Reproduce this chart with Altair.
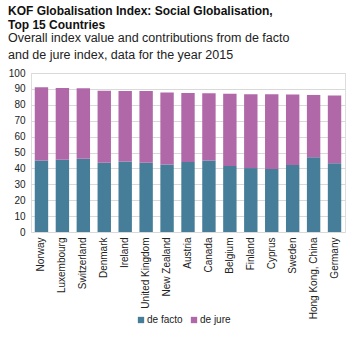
import altair as alt
import pandas as pd

countries = ["Norway", "Luxembourg", "Switzerland", "Denmark", "Ireland",
             "United Kingdom", "New Zealand", "Austria", "Canada", "Belgium",
             "Finland", "Cyprus", "Sweden", "Hong Kong, China", "Germany"]
totals = [91.0, 90.6, 90.4, 88.9, 88.7, 88.7, 87.7, 87.4, 87.2, 87.0,
          86.6, 86.6, 86.4, 86.2, 85.8]
de_facto = [44.9, 45.5, 46.1, 43.6, 44.3, 43.6, 42.4, 44.0, 44.9, 41.5,
            40.2, 39.7, 42.2, 47.0, 43.2]
de_jure = [round(t - f, 1) for t, f in zip(totals, de_facto)]

rows = []
for i, c in enumerate(countries):
    rows.append({"country": c, "series": "de facto", "value": de_facto[i], "order": 0})
    rows.append({"country": c, "series": "de jure", "value": de_jure[i], "order": 1})
df = pd.DataFrame(rows)

chart = alt.Chart(df).mark_bar().encode(
    x=alt.X("country:N", sort=countries, title=None,
            scale=alt.Scale(paddingInner=0.36, paddingOuter=0.18),
            axis=alt.Axis(labelAngle=-90, labelFontSize=10, labelColor="#222",
                          labelFont="Liberation Sans", ticks=False, domain=False,
                          labelPadding=5)),
    y=alt.Y("value:Q", stack="zero", title=None,
            scale=alt.Scale(domain=[0, 100], nice=False),
            axis=alt.Axis(values=list(range(0, 101, 10)), labelFontSize=10,
                          labelColor="#222", labelFont="Liberation Sans",
                          ticks=False, domain=False, gridColor="#d9d9d9",
                          labelPadding=6)),
    color=alt.Color("series:N",
                    scale=alt.Scale(domain=["de facto", "de jure"],
                                    range=["#467d98", "#b068a8"]),
                    legend=alt.Legend(title=None, orient="none", direction="horizontal",
                                      legendX=105, legendY=242,
                                      symbolType="square", symbolSize=40,
                                      symbolStrokeWidth=0,
                                      labelFontSize=10, labelFont="Liberation Sans",
                                      labelColor="#222", columnPadding=6,
                                      labelOffset=1)),
    order=alt.Order("order:Q"),
).properties(
    width=314, height=159,
    autosize=alt.AutoSizeParams(type="none"),
    padding={"left": 31, "top": 73, "right": 15, "bottom": 105},
    title=alt.TitleParams(
        text=["KOF Globalisation Index: Social Globalisation,", "Top 15 Countries"],
        subtitle=["Overall index value and contributions from de facto",
                  "and de jure index, data for the year 2015"],
        anchor="start", frame="group", dx=-23, offset=6,
        font="Liberation Sans", fontSize=12, fontWeight="bold", color="#111",
        lineHeight=14,
        subtitleFont="Liberation Sans", subtitleFontSize=12.5, subtitleColor="#222",
        subtitleLineHeight=17, subtitlePadding=0),
).configure_view(stroke="#d0d0d0", strokeWidth=1
).configure(background="white")

chart.save("out.html", embed_options={"renderer": "svg", "actions": False})
